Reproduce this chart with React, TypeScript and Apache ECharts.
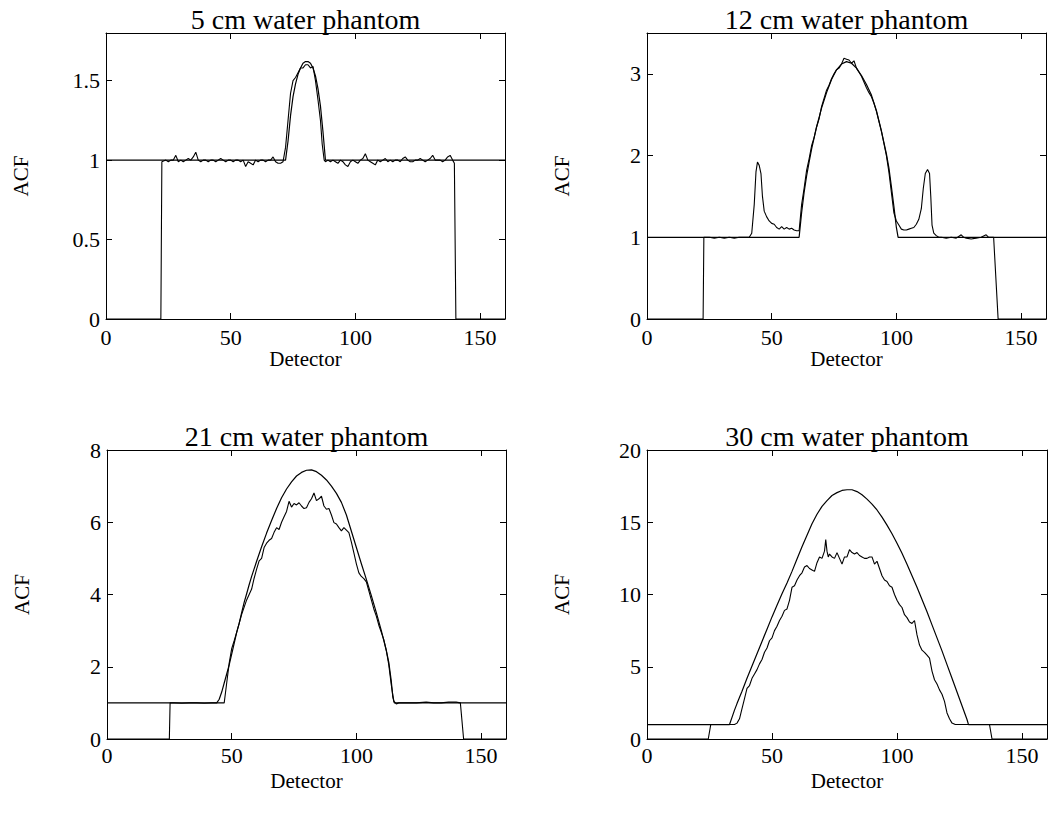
import React, { useEffect, useRef } from "react";
import * as echarts from "echarts";

type Pt = [number, number];

const FONT = '"Liberation Serif", "Times New Roman", serif';

const panelTitles = [
  "5 cm water phantom",
  "12 cm water phantom",
  "21 cm water phantom",
  "30 cm water phantom",
];
const xName = "Detector";
const yName = "ACF";
const xMin = 0;
const xMax = 160;
const xLabelValues = [0, 50, 100, 150];
const yMaxes = [1.8, 3.5, 8, 20];
const yLabelValues5 = [0, 0.5, 1, 1.5];
const yLabelValues12 = [0, 1, 2, 3];
const yLabelValues21 = [0, 2, 4, 6, 8];
const yLabelValues30 = [0, 5, 10, 15, 20];

// ---- 5 cm phantom ----
const theory5: Pt[] = [
  [0, 1], [72, 1], [73, 1.12], [74, 1.28], [75, 1.4], [76, 1.48], [77, 1.54], [78, 1.58],
  [79, 1.61], [80, 1.62], [81, 1.62], [82, 1.61], [83, 1.58], [84, 1.53], [85, 1.45],
  [86, 1.34], [87, 1.18], [88, 1], [160, 1],
];
const measured5: Pt[] = [
  [0, 0], [22, 0], [22.4, 0.99], [24, 1.0], [25, 0.99], [26, 1.0], [27, 1.0], [28, 1.03],
  [29, 0.99], [30, 1.0], [31, 0.99], [32, 1.0], [33, 1.01], [34, 1.0], [35, 1.02], [36, 1.05],
  [37, 1.0], [38, 0.99], [39, 1.0], [40, 1.0], [41, 0.99], [42, 1.0], [43, 1.0], [44, 0.99],
  [45, 1.0], [46, 1.01], [47, 1.0], [48, 0.99], [49, 1.0], [50, 1.0], [51, 0.99], [52, 1.0],
  [53, 1.0], [54, 0.99], [55, 1.0], [56, 0.96], [57, 0.99], [58, 0.98], [59, 0.97], [60, 1.0],
  [61, 0.99], [62, 1.0], [63, 1.0], [64, 0.99], [65, 1.0], [66, 1.0], [67, 1.02], [68, 0.99],
  [69, 0.98], [70, 0.98], [71, 0.99], [72, 1.08], [73, 1.25], [74, 1.42], [75, 1.5],
  [76, 1.52], [77, 1.55], [78, 1.58], [79, 1.58], [80, 1.6], [81, 1.6], [82, 1.58], [83, 1.59],
  [84, 1.5], [85, 1.38], [86, 1.25], [86.7, 1.1], [87.5, 1.0], [88, 0.99], [89, 1.0],
  [90, 0.99], [91, 1.0], [92, 0.99], [93, 0.98], [94, 1.0], [95, 0.99], [96, 0.97], [97, 0.96],
  [98, 0.99], [99, 1.0], [100, 0.99], [101, 0.98], [102, 1.0], [103, 1.01], [104, 1.04],
  [105, 1.0], [106, 0.99], [107, 0.98], [108, 0.97], [109, 1.0], [110, 0.99], [111, 1.0],
  [112, 1.01], [113, 0.99], [114, 1.0], [115, 0.99], [116, 1.0], [117, 1.0], [118, 0.99],
  [119, 1.01], [120, 1.02], [121, 1.0], [122, 0.99], [123, 0.99], [124, 1.0], [125, 1.0],
  [126, 1.01], [127, 1.0], [128, 0.99], [129, 1.0], [130, 1.01], [131, 1.03], [132, 1.0],
  [133, 1.0], [134, 1.0], [135, 0.99], [136, 1.0], [137, 1.02], [138, 1.03], [139, 1.0],
  [139.7, 0.98], [140.3, 0], [160, 0],
];

// ---- 12 cm phantom ----
const theory12: Pt[] = [
  [0, 1], [61, 1], [62, 1.3], [63, 1.55], [64, 1.75], [65, 1.92], [66, 2.08], [68, 2.35],
  [70, 2.58], [72, 2.77], [74, 2.93], [76, 3.05], [78, 3.12], [80, 3.15], [82, 3.13],
  [84, 3.07], [86, 2.98], [88, 2.87], [90, 2.74], [92, 2.55], [94, 2.3], [96, 2.02],
  [97, 1.85], [98, 1.62], [99, 1.38], [100, 1.12], [100.7, 1], [160, 1],
];
const measured12: Pt[] = [
  [0, 0], [22.5, 0], [22.8, 1.0], [25, 1.0], [27, 0.99], [29, 1.0], [31, 0.99], [33, 1.0],
  [35, 0.99], [37, 1.0], [39, 1.0], [41, 1.0], [42, 1.05], [43, 1.4], [43.7, 1.8],
  [44.3, 1.92], [45, 1.88], [45.7, 1.78], [46.3, 1.5], [47, 1.32], [48, 1.25], [49, 1.2],
  [50, 1.17], [51, 1.16], [52, 1.12], [53, 1.1], [54, 1.13], [55, 1.1], [56, 1.12],
  [57, 1.1], [58, 1.11], [59, 1.09], [60, 1.08], [61, 1.08], [62, 1.4], [63, 1.6],
  [64, 1.82], [65, 1.96], [66, 2.12], [67, 2.22], [68, 2.35], [69, 2.45], [70, 2.6],
  [71, 2.7], [72, 2.8], [73, 2.86], [74, 2.94], [75, 3.0], [76, 3.05], [77, 3.07],
  [78, 3.12], [79, 3.19], [80, 3.18], [81, 3.17], [82, 3.13], [83, 3.16], [84, 3.07],
  [85, 3.02], [86, 2.97], [87, 2.9], [88, 2.83], [89, 2.77], [90, 2.72], [91, 2.64],
  [92, 2.54], [93, 2.42], [94, 2.3], [95, 2.15], [96, 2.0], [97, 1.8], [98, 1.55],
  [99, 1.3], [100, 1.2], [101, 1.15], [102, 1.1], [103, 1.09], [104, 1.09], [105, 1.1],
  [106, 1.11], [107, 1.12], [108, 1.16], [109, 1.22], [110, 1.35], [110.8, 1.6],
  [111.6, 1.78], [112.5, 1.83], [113.3, 1.78], [113.8, 1.5], [114.3, 1.15], [115, 1.05],
  [116, 1.02], [117, 1.0], [118, 1.0], [120, 0.99], [122, 1.0], [124, 0.99], [125, 1.01],
  [126, 1.03], [127, 1.0], [128, 0.99], [130, 0.98], [132, 0.99], [134, 1.0], [136, 1.03],
  [137, 1.0], [139, 1.0], [140.8, 0], [160, 0],
];

// ---- 21 cm phantom ----
const theory21: Pt[] = [
  [0, 1], [44, 1], [45, 1.1], [46, 1.3], [47, 1.55], [48, 1.8], [49, 2.05], [50, 2.35],
  [51, 2.65], [52, 2.95], [53, 3.2], [54, 3.5], [55, 3.78], [56, 4.02], [57, 4.27],
  [58, 4.5], [60, 4.92], [62, 5.32], [64, 5.7], [66, 6.05], [68, 6.38], [70, 6.68],
  [72, 6.92], [74, 7.12], [76, 7.28], [78, 7.38], [80, 7.44], [82, 7.45], [84, 7.4],
  [86, 7.3], [88, 7.17], [90, 7.0], [92, 6.8], [94, 6.55], [96, 6.2], [98, 5.75],
  [100, 5.3], [102, 4.85], [104, 4.42], [106, 3.97], [108, 3.5], [110, 3.0], [112, 2.45],
  [113, 2.12], [114, 1.6], [114.6, 1.17], [115.2, 1], [160, 1],
];
const measured21: Pt[] = [
  [0, 0], [25, 0], [25.3, 1.0], [27, 1.0], [30, 0.99], [33, 1.0], [36, 1.0], [39, 0.99],
  [42, 1.0], [45, 1.0], [47, 1.0], [48, 1.55], [49, 2.1], [50, 2.5], [51, 2.72], [52, 2.95],
  [53, 3.2], [54, 3.45], [55, 3.65], [56, 3.85], [57, 4.0], [58, 4.15], [59, 4.45],
  [60, 4.7], [61, 4.93], [62, 5.0], [63, 5.3], [64, 5.42], [65, 5.5], [66, 5.55],
  [67, 5.72], [68, 5.85], [69, 5.8], [70, 6.0], [71, 6.15], [72, 6.3], [73, 6.58],
  [74, 6.42], [75, 6.52], [76, 6.48], [77, 6.54], [78, 6.45], [79, 6.38], [80, 6.4],
  [81, 6.55], [82, 6.65], [83, 6.81], [84, 6.6], [85, 6.65], [86, 6.72], [87, 6.45],
  [88, 6.36], [89, 6.38], [90, 6.2], [91, 5.99], [92, 5.95], [93, 5.85], [94, 5.76],
  [95, 5.85], [96, 5.78], [97, 5.71], [98, 5.45], [99, 5.15], [100, 4.85], [101, 4.6],
  [102, 4.5], [103, 4.44], [104, 4.35], [105, 4.1], [106, 3.85], [107, 3.6], [108, 3.4],
  [109, 3.15], [110, 2.95], [111, 2.75], [112, 2.45], [113, 2.05], [114, 1.5], [115, 1.05],
  [116, 0.97], [117, 1.0], [120, 1.0], [124, 1.0], [128, 1.02], [131, 1.0], [134, 1.0],
  [137, 1.02], [140, 1.02], [141.7, 1.0], [143, 0], [160, 0],
];

// ---- 30 cm phantom ----
const theory30: Pt[] = [
  [0, 1], [33, 1], [34, 1.5], [35, 2.0], [36, 2.45], [38, 3.3], [40, 4.2], [42, 5.05],
  [44, 5.9], [46, 6.75], [48, 7.6], [50, 8.45], [52, 9.25], [54, 10.05], [56, 10.8],
  [58, 11.6], [60, 12.45], [62, 13.3], [64, 14.1], [66, 14.9], [68, 15.55], [70, 16.1],
  [72, 16.5], [74, 16.85], [76, 17.05], [78, 17.2], [80, 17.25], [82, 17.25], [84, 17.12],
  [86, 16.9], [88, 16.6], [90, 16.25], [92, 15.85], [94, 15.35], [96, 14.8], [98, 14.2],
  [100, 13.55], [102, 12.85], [104, 12.1], [106, 11.3], [108, 10.5], [110, 9.65],
  [112, 8.8], [114, 7.9], [116, 7.0], [118, 6.1], [120, 5.15], [122, 4.2], [124, 3.25],
  [126, 2.3], [128, 1.35], [128.6, 1], [160, 1],
];
const measured30: Pt[] = [
  [0, 0], [24.5, 0], [25.5, 1], [28, 1], [32, 1], [35, 1], [36, 1.1], [37, 1.4], [38, 2.1],
  [39, 2.8], [40, 3.5], [41, 3.7], [42, 4.2], [43, 4.5], [44, 4.8], [45, 5.2], [46, 5.5],
  [47, 6.0], [48, 6.3], [49, 6.8], [50, 7.0], [51, 7.5], [52, 7.8], [53, 8.2], [54, 8.5],
  [55, 8.9], [56, 9.0], [57, 9.6], [58, 10.5], [59, 10.6], [60, 11.0], [61, 11.3],
  [62, 11.5], [63, 11.9], [64, 12.0], [65, 11.8], [66, 11.7], [67, 11.6], [68, 12.2],
  [69, 12.6], [70, 12.5], [71, 13.0], [71.5, 13.8], [72, 13.0], [72.5, 12.6], [73, 12.8],
  [74, 12.6], [75, 12.5], [76, 12.9], [77, 12.5], [78, 12.1], [79, 12.6], [80, 12.6],
  [81, 13.1], [82, 12.9], [83, 12.8], [84, 12.9], [85, 12.7], [86, 12.6], [87, 12.5],
  [88, 12.5], [89, 12.6], [90, 12.6], [91, 12.1], [92, 12.3], [93, 11.8], [94, 11.3],
  [95, 11.0], [96, 10.9], [97, 10.6], [98, 10.5], [99, 10.0], [100, 9.6], [101, 9.3],
  [102, 9.1], [103, 8.6], [104, 8.4], [105, 8.1], [106, 8.0], [107, 8.2], [108, 7.2],
  [109, 6.5], [110, 6.15], [111, 6.0], [112, 5.8], [113, 5.6], [114, 4.7], [115, 4.1],
  [116, 3.8], [117, 3.4], [118, 3.1], [119, 2.6], [120, 1.8], [121, 1.4], [122, 1.1],
  [123.3, 1], [137, 1], [138, 0], [160, 0],
];

const theories = [theory5, theory12, theory21, theory30];
const measures = [measured5, measured12, measured21, measured30];
const yLabelSets = [yLabelValues5, yLabelValues12, yLabelValues21, yLabelValues30];

// layout (pixels)
const GRIDS = [
  { left: 106, top: 33, width: 399, height: 286 },
  { left: 647, top: 33, width: 399, height: 286 },
  { left: 107, top: 450, width: 399, height: 289 },
  { left: 647, top: 450, width: 400, height: 289 },
];
const TITLE_CENTER_Y = [19, 19, 436, 436];
const X_NAME_GAP = [22, 22, 31, 31];
const X_LABEL_MARGIN = [7, 7, 5, 5];

function buildOption(): echarts.EChartsOption {
  const black = "#000";
  const text = { color: black, fontFamily: FONT, fontSize: 22 };
  const xAxis: any[] = [];
  const yAxis: any[] = [];
  const series: any[] = [];
  GRIDS.forEach((_, i) => {
    const tickX = xLabelValues.filter((v) => v > xMin && v < xMax);
    const yl = yLabelSets[i];
    const tickY = yl.filter((v) => v > 0 && v < yMaxes[i]);
    xAxis.push({
      type: "value", gridIndex: i, position: "bottom", min: xMin, max: xMax,
      axisLine: { show: true, onZero: false, lineStyle: { color: black, width: 1 } },
      axisTick: { show: true, inside: true, length: 6, customValues: tickX, lineStyle: { color: black } },
      axisLabel: { show: true, customValues: xLabelValues, margin: X_LABEL_MARGIN[i], ...text },
      splitLine: { show: false },
      name: xName, nameLocation: "middle", nameGap: X_NAME_GAP[i],
      nameTextStyle: { ...text, fontSize: 21 },
    });
    xAxis.push({
      type: "value", gridIndex: i, position: "top", min: xMin, max: xMax,
      axisLine: { show: true, onZero: false, lineStyle: { color: black, width: 1 } },
      axisTick: { show: true, inside: true, length: 6, customValues: tickX, lineStyle: { color: black } },
      axisLabel: { show: false },
      splitLine: { show: false },
    });
    yAxis.push({
      type: "value", gridIndex: i, position: "left", min: 0, max: yMaxes[i],
      axisLine: { show: true, onZero: false, lineStyle: { color: black, width: 1 } },
      axisTick: { show: true, inside: true, length: 6, customValues: tickY, lineStyle: { color: black } },
      axisLabel: { show: true, customValues: yl, margin: 6, ...text },
      splitLine: { show: false },
      name: yName, nameLocation: "middle", nameGap: 75, nameRotate: 90,
      nameTextStyle: { ...text, fontSize: 21 },
    });
    yAxis.push({
      type: "value", gridIndex: i, position: "right", min: 0, max: yMaxes[i],
      axisLine: { show: true, onZero: false, lineStyle: { color: black, width: 1 } },
      axisTick: { show: true, inside: true, length: 6, customValues: tickY, lineStyle: { color: black } },
      axisLabel: { show: false },
      splitLine: { show: false },
    });
    series.push({
      type: "line", xAxisIndex: 2 * i, yAxisIndex: 2 * i, data: theories[i],
      showSymbol: false, symbol: "none", lineStyle: { color: black, width: 1.2 }, silent: true,
    });
    series.push({
      type: "line", xAxisIndex: 2 * i, yAxisIndex: 2 * i, data: measures[i],
      showSymbol: false, symbol: "none", lineStyle: { color: black, width: 1.1 }, silent: true,
    });
  });

  const graphic = panelTitles.map((t, i) => ({
    type: "text",
    x: GRIDS[i].left + GRIDS[i].width / 2,
    y: TITLE_CENTER_Y[i],
    silent: true,
    style: {
      text: t, fill: black, fontFamily: FONT, fontSize: 28,
      align: "center", verticalAlign: "middle",
    },
  }));

  return {
    animation: false,
    backgroundColor: "#fff",
    grid: GRIDS.map((g) => ({ ...g, containLabel: false })),
    xAxis, yAxis, series, graphic,
  } as any;
}

export default function App() {
  const ref = useRef<HTMLDivElement>(null);
  useEffect(() => {
    if (!ref.current) return;
    const chart = echarts.init(ref.current, undefined, { renderer: "svg" });
    chart.setOption(buildOption());
    return () => chart.dispose();
  }, []);
  return (
    <div
      ref={ref}
      style={{ position: "fixed", left: 0, top: 0, width: 1048, height: 816, background: "#fff" }}
    />
  );
}
